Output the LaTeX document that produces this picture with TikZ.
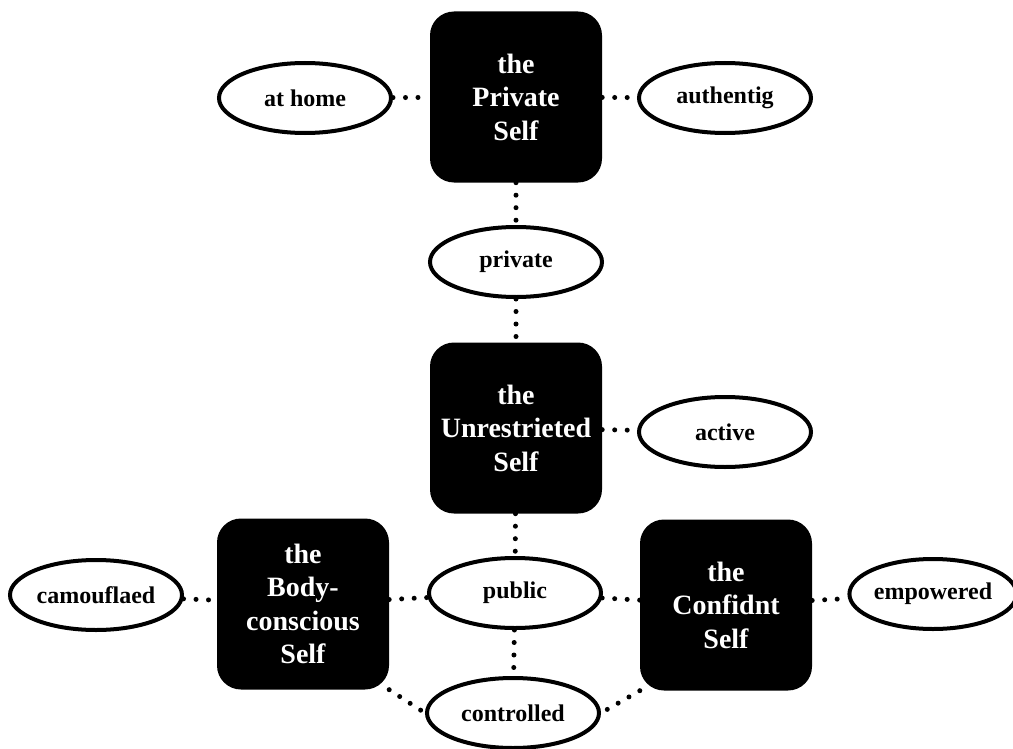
\documentclass[tikz,border=0pt]{standalone}
\usepackage{fontspec}
\setmainfont{Liberation Serif}
\usetikzlibrary{shapes.geometric}
\tikzset{
  selfbox/.style={rectangle, rounded corners=24bp, fill=black, text=white, minimum width=172bp, minimum height=171bp, align=center, inner sep=0pt, font=\bfseries\fontsize{28bp}{33.5bp}\selectfont},
  trait/.style={ellipse, draw=black, line width=4bp, fill=white, minimum width=172bp, minimum height=70bp, inner sep=0pt, font=\bfseries\fontsize{24bp}{28bp}\selectfont},
  link/.style={line width=5bp, line cap=round, dash pattern=on 0bp off 12.5bp}
}
\begin{document}
\begin{tikzpicture}[x=1bp, y=-1bp]
\useasboundingbox (0,0) rectangle (1013,749);
\node[selfbox] (private self) at (516,97) {the\\Private\\Self};
\node[selfbox] (unres) at (516,428) {the\\Unrestrieted\\Self};
\node[selfbox] (body) at (303,604) {the\\Body-\\conscious\\Self};
\node[selfbox] (conf) at (726,605) {the\\Confidnt\\Self};
\node[trait] (home) at (305,98) {at home};
\node[trait] (auth) at (725,98) {authentig};
\node[trait] (priv) at (516,262) {private};
\node[trait] (active) at (725,432) {active};
\node[trait] (public) at (515,593) {public};
\node[trait] (controlled) at (513,713) {controlled};
\node[trait] (camo) at (96,595) {camouflaed};
\node[trait, minimum width=158bp] (emp) at (933,594) {empowered};
\draw[link] (home) -- (private self);
\draw[link] (private self) -- (auth);
\draw[link] (private self) -- (priv);
\draw[link] (priv) -- (unres);
\draw[link] (unres) -- (active);
\draw[link] (unres) -- (public);
\draw[link] (camo) -- (body);
\draw[link] (body) -- (public);
\draw[link] (public) -- (conf);
\draw[link] (conf) -- (emp);
\draw[link] (public) -- (controlled);
\draw[link] (body.south east) -- (controlled.west);
\draw[link] (conf.south west) -- (controlled.east);
\end{tikzpicture}
\end{document}
